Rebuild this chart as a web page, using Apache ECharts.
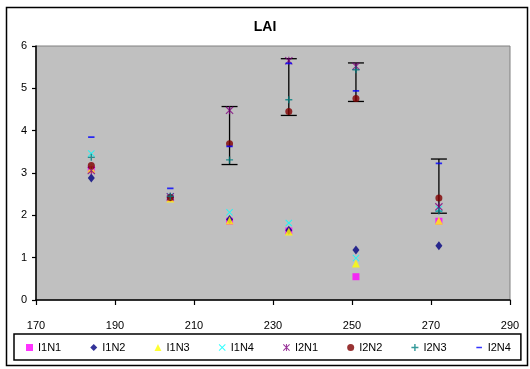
<!DOCTYPE html>
<html>
<head>
<meta charset="utf-8">
<script src="https://cdn.jsdelivr.net/npm/echarts@6/dist/echarts.min.js"></script>
<style>
html,body{margin:0;padding:0;background:#fff;}
#chart{width:530px;height:369px;}
</style>
</head>
<body>
<div id="chart"></div>
<script>
// Day of year for each sampling date
var days = [184, 204, 219, 234, 251, 272];
var seriesNames = ['I1N1','I1N2','I1N3','I1N4','I2N1','I2N2','I2N3','I2N4'];
var I1N1 = [3.08, 2.40, 1.86, 1.63, 0.55, 1.86];
var I1N2 = [2.88, 2.42, 1.90, 1.65, 1.18, 1.28];
var I1N3 = [3.10, 2.40, 1.88, 1.62, 0.86, 1.87];
var I1N4 = [3.46, 2.45, 2.07, 1.82, 0.99, 2.15];
var I2N1 = [3.06, 2.44, 4.48, 5.65, 5.52, 2.20];
var I2N2 = [3.18, 2.42, 3.69, 4.45, 4.76, 2.41];
var I2N3 = [3.37, 2.45, 3.31, 4.73, 5.44, 2.10];
var I2N4 = [3.85, 2.64, 3.63, 5.59, 4.94, 3.23];
// Error bar extents
var errLow  = [null, null, 3.20, 4.36, 4.69, 2.05];
var errHigh = [null, null, 4.57, 5.70, 5.60, 3.33];
var xTicks = [170, 190, 210, 230, 250, 270, 290];

var allValues = [I1N1, I1N2, I1N3, I1N4, I2N1, I2N2, I2N3, I2N4];
var colors = ['#FF00FF','#000080','#FFFF00','#00FFFF','#800080','#800000','#008080','#0000FF'];
var symbols = [
  'rect',
  'diamond',
  'triangle',
  'path://M0,1L1,0L10,9L9,10Z M9,0L10,1L1,10L0,9Z',
  'path://M0,1L1,0L10,9L9,10Z M9,0L10,1L1,10L0,9Z M4.3,0L5.7,0L5.7,10L4.3,10Z',
  'circle',
  'path://M4,0L6,0L6,10L4,10Z M0,4L10,4L10,6L0,6Z',
  'path://M0,0L0.01,0L0.01,0.01Z M1,4L9,4L9,6.2L1,6.2Z M9.99,10L10,10L10,9.99Z'
];
var sizes = [7, [7,9], 8, 7, 8, 7, 7, 8];

var series = [];
series.push({
  type: 'custom',
  name: 'err',
  z: 1,
  data: days.map(function(d,i){ return [d, errLow[i], errHigh[i]]; }).filter(function(r){ return r[1] != null; }),
  encode: {x: 0, y: [1, 2]},
  renderItem: function(params, api){
    var x = api.value(0), lo = api.value(1), hi = api.value(2);
    var p1 = api.coord([x, lo]), p2 = api.coord([x, hi]);
    var hw = 8;
    var st = {stroke: '#000', lineWidth: 1.3};
    return {type: 'group', children: [
      {type:'line', shape:{x1:p1[0], y1:p1[1], x2:p2[0], y2:p2[1]}, style: st},
      {type:'line', shape:{x1:p1[0]-hw, y1:p1[1], x2:p1[0]+hw, y2:p1[1]}, style: st},
      {type:'line', shape:{x1:p2[0]-hw, y1:p2[1], x2:p2[0]+hw, y2:p2[1]}, style: st}
    ]};
  }
});
seriesNames.forEach(function(n, k){
  series.push({
    type: 'scatter',
    name: n,
    z: 2 + k,
    symbol: symbols[k],
    symbolSize: sizes[k],
    itemStyle: {color: colors[k]},
    data: days.map(function(d,i){ return [d, allValues[k][i]]; }).filter(function(r){ return r[1] != null; })
  });
});

var font = 'Liberation Sans, Arial, sans-serif';
var chart = echarts.init(document.getElementById('chart'), null, {renderer: 'canvas'});
chart.setOption({
  animation: false,
  backgroundColor: '#fff',
  textStyle: {fontFamily: font},
  title: {
    text: 'LAI', left: 'center', top: 15,
    textStyle: {fontSize: 14, fontWeight: 'bold', color: '#000', fontFamily: font}
  },
  grid: {
    left: 36, right: 20, top: 46, bottom: 69,
    show: true, backgroundColor: '#C0C0C0', borderColor: '#808080', borderWidth: 1
  },
  xAxis: {
    type: 'value', min: xTicks[0], max: xTicks[xTicks.length-1], interval: 20,
    axisLine: {lineStyle: {color: '#000', width: 1.5}},
    axisTick: {show: true, length: 5, lineStyle: {color: '#000', width: 1.2}},
    axisLabel: {color: '#000', fontSize: 11, margin: 20, showMaxLabel: true, showMinLabel: true},
    splitLine: {show: false}
  },
  yAxis: {
    type: 'value', min: 0, max: 6, interval: 1,
    axisLine: {show: true, lineStyle: {color: '#000', width: 1.5}},
    axisTick: {show: true, length: 4, lineStyle: {color: '#000', width: 1.2}},
    axisLabel: {color: '#000', fontSize: 11, margin: 9},
    splitLine: {show: false}
  },
  legend: {
    data: seriesNames,
    left: 14, top: 334,
    orient: 'horizontal',
    padding: [8, 10, 7, 12],
    itemGap: 29,
    itemWidth: 7, itemHeight: 7,
    borderColor: '#000', borderWidth: 1.5,
    textStyle: {color: '#000', fontSize: 11, fontFamily: font}
  },
  graphic: [{
    type: 'rect', silent: true, z: 100,
    shape: {x: 6.5, y: 7.5, width: 521, height: 358},
    style: {fill: 'none', stroke: '#000', lineWidth: 1.5}
  }],
  series: series
});
</script>
</body>
</html>
